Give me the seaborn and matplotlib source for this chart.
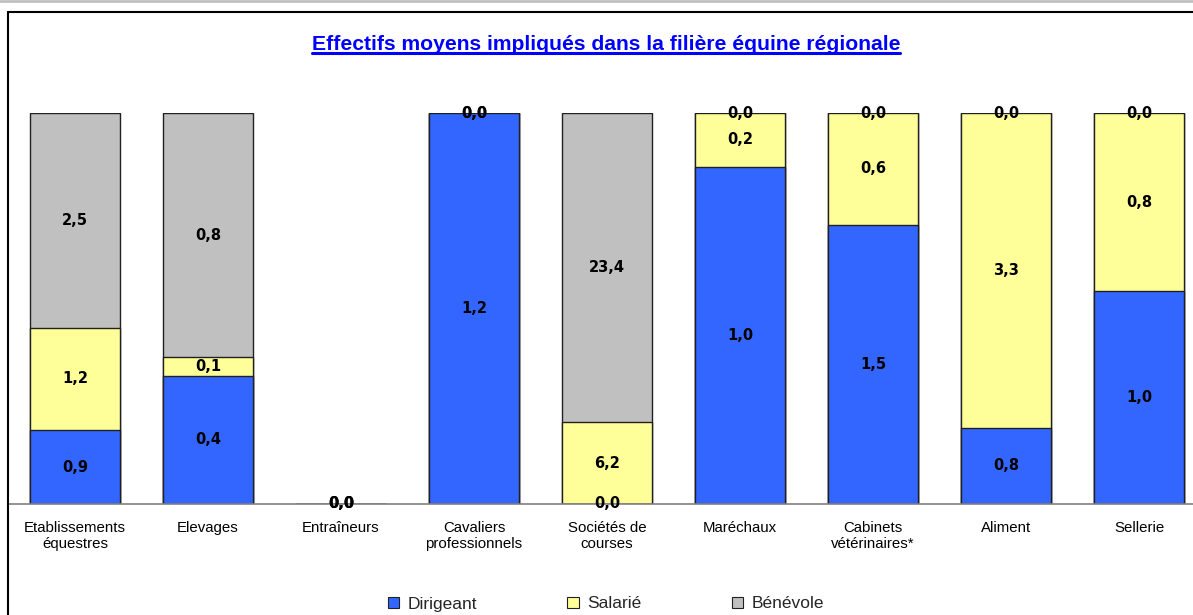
import numpy as np
import pandas as pd
import matplotlib
matplotlib.use("Agg")
import matplotlib.pyplot as plt
from matplotlib.lines import Line2D
from matplotlib.patches import Patch
import seaborn as sns

# --- DATA ---
categories = ["Etablissements\néquestres", "Elevages", "Entraîneurs",
              "Cavaliers\nprofessionnels", "Sociétés de\ncourses", "Maréchaux",
              "Cabinets\nvétérinaires*", "Aliment", "Sellerie"]
dirigeant = [0.86, 0.42, 0.0, 1.2, 0.0, 1.0, 1.5, 0.8, 0.98]
salarie = [1.19, 0.06, 0.0, 0.0, 6.2, 0.16, 0.6, 3.3, 0.82]
benevole = [2.5, 0.8, 0.0, 0.0, 23.4, 0.0, 0.0, 0.0, 0.0]
series = ["Dirigeant", "Salarié", "Bénévole"]
colors = ["#3366FF", "#FFFF99", "#C0C0C0"]

df = pd.DataFrame({"Dirigeant": dirigeant, "Salarié": salarie, "Bénévole": benevole},
                  index=categories)
total = df.sum(axis=1)
share = df.div(total.replace(0, np.nan), axis=0).fillna(0)
cum = share.cumsum(axis=1)

sns.set_style("white")
plt.rcParams["font.family"] = ["DejaVu Sans"]
arial = ["Liberation Sans", "DejaVu Sans"]

W, H = 1193, 615
fig = plt.figure(figsize=(W / 100, H / 100), dpi=100)
ax = fig.add_axes([8.5 / W, 1 - 504 / H, 1 - 8.5 / W, (504 - 113) / H])

# stacked 100% bars: draw cumulative heights from top layer down
for s, c in reversed(list(zip(series, colors))):
    sns.barplot(x=categories, y=cum[s].values, order=categories, color=c,
                saturation=1, width=0.67, edgecolor="#202020", linewidth=1,
                errorbar=None, ax=ax, zorder=2)

# value labels at segment centers
for i, cat in enumerate(categories):
    prev = 0.0
    for s in series:
        y = prev + share.loc[cat, s] / 2
        ax.text(i, y, f"{df.loc[cat, s]:.1f}".replace(".", ","), ha="center", va="center",
                fontsize=10.5, fontweight="bold", color="black", zorder=5, clip_on=False)
        prev += share.loc[cat, s]

n = len(categories)
ax.set_yticks([])
ax.set_xlabel("")
ax.set_ylabel("")
for sp in ["left", "top", "right"]:
    ax.spines[sp].set_visible(False)
ax.spines["bottom"].set_color("#808080")
ax.spines["bottom"].set_linewidth(1.2)
ax.spines["bottom"].set_zorder(3)
ax.set_xticks(np.arange(n) + 0.5, minor=True)
ax.tick_params(axis="x", which="major", length=0, pad=12, colors="black")
ax.tick_params(axis="x", which="minor", length=4, width=1, color="#808080", direction="out")
for lab in ax.get_xticklabels():
    lab.set_family(arial)
    lab.set_fontsize(10.8)
    lab.set_linespacing(1.2)
ax.set_xlim(-0.5, (W - 8.5) / 133 - 0.5)
ax.set_ylim(0, 1)

# legend
handles = [Patch(facecolor=c, edgecolor="#202020", linewidth=0.8, label=s)
           for s, c in zip(series, colors)]
fig.legend(handles=handles, loc="center", bbox_to_anchor=(606 / W, 1 - 604 / H), ncol=3,
           frameon=False, handlelength=0.65, handleheight=0.65,
           handletextpad=0.5, columnspacing=5.2,
           prop={"family": arial, "size": 12.5})

# title with underline
title = fig.text(606 / W, 1 - 44 / H, "Effectifs moyens impliqués dans la filière équine régionale",
                 ha="center", va="center", fontsize=15.2, fontweight="bold", color="#0000FF",
                 family=arial)
fig.canvas.draw()
bb = title.get_window_extent(renderer=fig.canvas.get_renderer())
fig.add_artist(Line2D([bb.x0 / W, bb.x1 / W], [(bb.y0 + 1) / H, (bb.y0 + 1) / H],
                      transform=fig.transFigure, color="#0000FF", linewidth=2.2))

# outer chart frame
fig.add_artist(Line2D([0, 1], [1 - 0.5 / H, 1 - 0.5 / H], transform=fig.transFigure,
                      color="#C0C0C0", linewidth=2))
fig.add_artist(Line2D([8 / W, 1], [1 - 11.5 / H, 1 - 11.5 / H], transform=fig.transFigure,
                      color="black", linewidth=1.5))
fig.add_artist(Line2D([8 / W, 8 / W], [0, 1 - 11.5 / H], transform=fig.transFigure,
                      color="black", linewidth=1.5))

fig.savefig("out.png", dpi=100)
